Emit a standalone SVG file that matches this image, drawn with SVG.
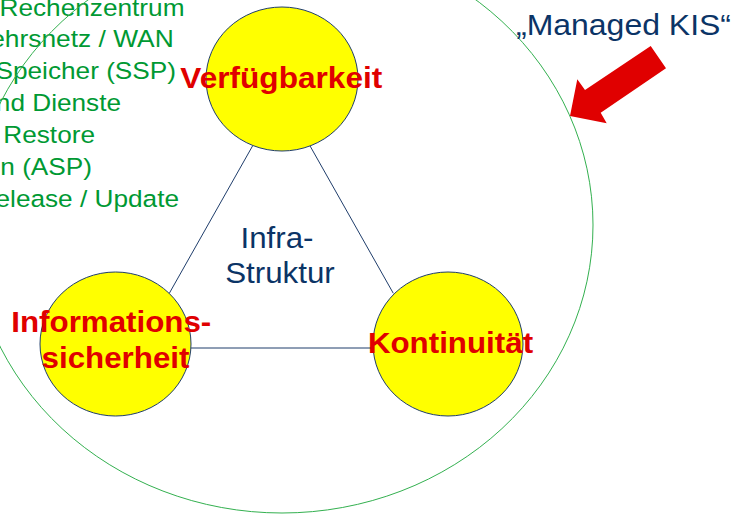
<svg xmlns="http://www.w3.org/2000/svg" width="738" height="515" viewBox="0 0 738 515">
  <style>
    .list { font-family: "Liberation Sans", Arial, sans-serif; font-size: 24.5px; fill: #009933; text-anchor: end; }
    .label { font-family: "Liberation Sans", Arial, sans-serif; font-size: 29.5px; font-weight: bold; fill: #e00000; text-anchor: middle; }
    .navy { font-family: "Liberation Sans", Arial, sans-serif; font-size: 29.5px; fill: #0b3466; }
    .node { fill: #ffff00; stroke: #1f3d6b; stroke-width: 1; }
    .edge { stroke: #1f3d6b; stroke-width: 1; fill: none; }
  </style>
  <rect width="738" height="515" fill="#ffffff"/>

  <!-- service list, running off the left edge -->
  <g id="service-list">
    <text class="list" x="184.5" y="15.5" textLength="185" lengthAdjust="spacingAndGlyphs">Rechenzentrum</text>
    <text class="list" x="173.7" y="47" textLength="183.5" lengthAdjust="spacingAndGlyphs">ehrsnetz / WAN</text>
    <text class="list" x="176" y="79" textLength="180.5" lengthAdjust="spacingAndGlyphs">Speicher (SSP)</text>
    <text class="list" x="121" y="111" textLength="125.2" lengthAdjust="spacingAndGlyphs">nd Dienste</text>
    <text class="list" x="95" y="142.5" textLength="91.7" lengthAdjust="spacingAndGlyphs">Restore</text>
    <text class="list" x="92" y="174.5" textLength="91.7" lengthAdjust="spacingAndGlyphs">n (ASP)</text>
    <text class="list" x="179" y="206.5" textLength="183.5" lengthAdjust="spacingAndGlyphs">elease / Update</text>
  </g>

  <!-- outer boundary -->
  <g id="managed-kis">
    <ellipse cx="282" cy="225" rx="311" ry="288" fill="none" stroke="#33b04f" stroke-width="1"/>
    <text class="navy" x="516" y="35" textLength="215" lengthAdjust="spacingAndGlyphs">„Managed KIS“</text>
    <polygon points="650.7,46 666,68.3 600.7,112.7 606.7,123.3 570,116 577.3,79.3 585,90" fill="#e00000"/>
  </g>

  <!-- triangle edges -->
  <g id="connectors">
    <line class="edge" x1="252.8" y1="145.5" x2="169.3" y2="293.3"/>
    <line class="edge" x1="309.8" y1="145.5" x2="393.3" y2="293.3"/>
    <line class="edge" x1="191" y1="348" x2="373" y2="348"/>
  </g>

  <g id="infrastruktur">
    <text class="navy" x="277" y="248" text-anchor="middle" textLength="73" lengthAdjust="spacingAndGlyphs">Infra-</text>
    <text class="navy" x="280" y="283.3" text-anchor="middle" textLength="109.6" lengthAdjust="spacingAndGlyphs">Struktur</text>
  </g>

  <g id="verfuegbarkeit">
    <ellipse class="node" cx="282" cy="79" rx="76" ry="72"/>
    <text class="label" x="281.3" y="88" textLength="202" lengthAdjust="spacingAndGlyphs">Verfügbarkeit</text>
  </g>

  <g id="informationssicherheit">
    <ellipse class="node" cx="115.5" cy="344" rx="75.5" ry="72"/>
    <text class="label" x="111.3" y="331.7" textLength="200" lengthAdjust="spacingAndGlyphs">Informations-</text>
    <text class="label" x="115.5" y="368.3" textLength="147.9" lengthAdjust="spacingAndGlyphs">sicherheit</text>
  </g>

  <g id="kontinuitaet">
    <ellipse class="node" cx="448" cy="344" rx="75" ry="72"/>
    <text class="label" x="450.5" y="353.3" textLength="165.2" lengthAdjust="spacingAndGlyphs">Kontinuität</text>
  </g>
</svg>
